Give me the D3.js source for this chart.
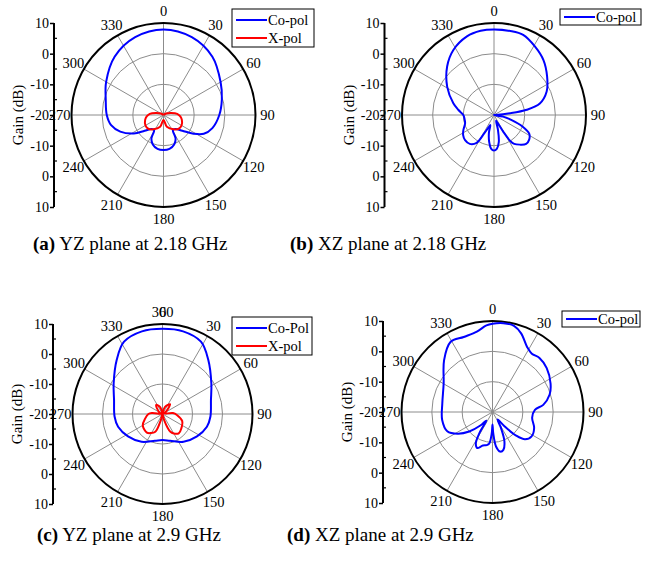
<!DOCTYPE html>
<html>
<head>
<meta charset="utf-8">
<script src="https://cdn.jsdelivr.net/npm/d3@7"></script>
<style>
  body { margin: 0; background: #fff; }
  svg, svg text { font-family: 'Liberation Serif', 'Times New Roman', Times, serif !important; }
</style>
</head>
<body>
<div id="chart"></div>
<script>
// angle (deg) / gain (dB)
var aCoAngles = [0,20,40,60,75,90,105,115,122,130,140,148,153,160,170,180,190,200,207,212,220,230,238,249,259,270,285,300,320,340];
var aCoGain   = [7.9,7.0,4.8,1.5,-0.3,-1.8,-3.5,-5.5,-8.5,-12,-14,-14.2,-11.3,-9.8,-8.8,-8.6,-8.8,-9.8,-11.3,-14.2,-14,-12,-8.6,-4.9,-2.6,-1.5,-0.5,1.6,4.8,7.0];
var aXAngles  = [0,30,60,75,85,95,105,120,132,145,164,180,196,215,228,240,255,265,275,285,300,330];
var aXGain    = [-22,-20.5,-19,-17.5,-15.5,-14.5,-13.8,-13.2,-13.3,-14.3,-16,-18.4,-16,-14.3,-13.3,-13.2,-13.8,-14.5,-15.5,-17.5,-19,-20.5];

var bCoAngles = [0,11,20,31,42,54,66,76,81,84,88,92,100,106,112,118,125,132,139,145,148,151,155,160,165,170,175,180,185,190,196,200,204,208,212,220,229,237,244,254,262,270,278,286,301,316,328,341,351];
var bCoGain   = [7.9,7.9,7.8,6.0,4.1,1.4,-1.2,-4.6,-9.2,-14.8,-19.5,-21,-17,-14,-10,-7,-6,-5.9,-7.2,-8.5,-10,-13.8,-17,-18,-15,-11,-9,-8.4,-9,-11,-14,-16.5,-15.5,-13.2,-9.3,-7.7,-7.5,-8,-8.9,-10.2,-10.3,-10,-8.3,-6.2,-2.2,2.0,5.0,7.1,7.8];

var cCoAngles = [0,14,28,40,58,74,93,106,123,143,164,180,196,217,237,254,267,286,302,320,332,346];
var cCoGain   = [8.4,8.4,7.3,3.7,-0.8,-3.2,-4.0,-4.6,-6.3,-8.4,-10.7,-11.3,-10.7,-8.4,-6.3,-4.6,-4.0,-3.2,-0.8,3.7,7.3,8.4];
var cXAngles  = [0,8,20,38,55,70,85,94,110,123,140,150,156,165,180,195,202,212,220,240,255,270,275,282,295,310,325,340,352];
var cXGain    = [-22,-20,-17.5,-15.9,-18.5,-19.5,-16.5,-15.2,-13,-12.3,-11.6,-12.5,-13.5,-18,-22,-18,-13.6,-12.5,-11.9,-12.4,-14,-15.3,-16.5,-19.5,-19,-18,-16.3,-17.5,-20];

var dCoAngles = [0,7,14,20,28,34,41,51,64,73,82,87,98,111,122,130,135,140,146,152,158,164,169,174,178,180,182,186,190,196,203,208,212,216,222,230,238,247,261,280,300,317,329,339,349,356];
var dCoGain   = [9.1,9.5,9.3,7.6,4.3,3.2,3.6,3.0,1.3,-0.3,-3.1,-6.0,-6.8,-5.3,-4.8,-6,-9,-14,-17,-14,-9.5,-7,-6.7,-8.5,-13,-15.9,-13,-9.5,-8.9,-8.5,-7.1,-8.3,-12,-16.5,-14,-10,-6.5,-3.8,-3.2,-3.2,-1.4,3.4,6.9,6.5,7.0,8.6];

var angleTicks = [0,30,60,90,120,150,180,210,240,270,300,330];
var axisTicks = [-30,-20,-10,0,10,20,30];   // shown as |v| - 20
var minorTicks = [-25,-15,-5,5,15,25];

var SERIF = "'Liberation Serif', 'Times New Roman', Times, serif";

var panels = [
  {cx:163.5, cy:115, R:92, caption:"YZ plane at 2.18 GHz", tag:"(a)", capX:33, capY:250,
   series:[{a:aCoAngles,g:aCoGain,c:"#0000ff",name:"Co-pol"},{a:aXAngles,g:aXGain,c:"#ff0000",name:"X-pol"}],
   leg:{x:232,y:9,w:82}, extra360:false},
  {cx:494, cy:115, R:92, caption:"XZ plane at 2.18 GHz", tag:"(b)", capX:290, capY:250,
   series:[{a:bCoAngles,g:bCoGain,c:"#0000ff",name:"Co-pol"}],
   leg:{x:560,y:9,w:81}, extra360:false},
  {cx:162.5, cy:414, R:90, caption:"YZ plane at 2.9 GHz", tag:"(c)", capX:37, capY:541,
   series:[{a:cCoAngles,g:cCoGain,c:"#0000ff",name:"Co-Pol"},{a:cXAngles,g:cXGain,c:"#ff0000",name:"X-pol"}],
   leg:{x:232,y:317,w:80}, extra360:true},
  {cx:492.5, cy:412, R:91, caption:"XZ plane at 2.9 GHz", tag:"(d)", capX:287, capY:541,
   series:[{a:dCoAngles,g:dCoGain,c:"#0000ff",name:"Co-pol"}],
   leg:{x:562,y:311,w:78}, extra360:false}
];

var svg = d3.select("#chart").append("svg")
  .attr("width", 662).attr("height", 567)
  .attr("font-family", SERIF);

panels.forEach(function(p){
  var g = svg.append("g").attr("transform", "translate(" + p.cx + "," + p.cy + ")");
  var r = d3.scaleLinear().domain([-20, 10]).range([0, p.R]).clamp(true);
  var lr = p.R + 12;

  // grid circles
  [-10, 0].forEach(function(v){
    g.append("circle").attr("r", r(v)).attr("fill", "none")
      .attr("stroke", "#8c8c8c").attr("stroke-width", 1);
  });
  // spokes
  g.selectAll(".spoke").data(angleTicks).enter().append("line")
    .attr("x1", 0).attr("y1", 0)
    .attr("x2", function(d){ return p.R * Math.sin(d*Math.PI/180); })
    .attr("y2", function(d){ return -p.R * Math.cos(d*Math.PI/180); })
    .attr("stroke", "#8c8c8c").attr("stroke-width", 1);
  g.append("circle").attr("r", p.R).attr("fill", "none")
    .attr("stroke", "#000").attr("stroke-width", 2);

  // angle labels
  g.selectAll(".al").data(angleTicks).enter().append("text")
    .attr("x", function(d){ return lr * Math.sin(d*Math.PI/180); })
    .attr("y", function(d){ return -lr * Math.cos(d*Math.PI/180); })
    .attr("text-anchor", "middle").attr("dy", "0.35em")
    .attr("font-size", 14.5)
    .text(function(d){ return d; });
  if (p.extra360) {
    g.append("text").attr("x", 0).attr("y", -lr)
      .attr("text-anchor", "middle").attr("dy", "0.35em")
      .attr("font-size", 14.5).text("360");
  }

  // traces
  p.series.forEach(function(s){
    var pts = s.a.map(function(a, i){ return {a:a, g:s.g[i]}; });
    var line = d3.lineRadial()
      .angle(function(d){ return d.a*Math.PI/180; })
      .radius(function(d){ return r(d.g); })
      .curve(d3.curveCatmullRomClosed.alpha(0.5));
    g.append("path").attr("d", line(pts)).attr("fill", "none")
      .attr("stroke", s.c).attr("stroke-width", 2);
  });

  // left gain axis
  var ax = p.cx - 109.5;
  var y = d3.scaleLinear().domain([-30, 30]).range([p.cy - p.R, p.cy + p.R]);
  var axG = svg.append("g").attr("transform", "translate(" + ax + ",0)");
  axG.call(d3.axisLeft(y).tickValues(axisTicks).tickSize(4).tickPadding(1)
      .tickFormat(function(d){ return Math.abs(d) - 20; }));
  axG.attr("font-family", SERIF).attr("font-size", 14);
  axG.select(".domain").attr("stroke-width", 2).attr("d", "M0," + (p.cy - p.R) + "V" + (p.cy + p.R));
  axG.selectAll(".tick line").attr("stroke-width", 1.5);
  axG.selectAll("text").attr("fill", "#000");
  axG.selectAll(".minor").data(minorTicks).enter().append("line")
    .attr("x1", 0).attr("x2", 3)
    .attr("y1", function(d){ return y(d); }).attr("y2", function(d){ return y(d); })
    .attr("stroke", "#000").attr("stroke-width", 1.2);

  svg.append("text")
    .attr("transform", "translate(" + (ax - 31) + "," + p.cy + ") rotate(-90)")
    .attr("text-anchor", "middle").attr("font-size", 15)
    .text("Gain (dB)");

  // legend
  var lg = svg.append("g").attr("transform", "translate(" + p.leg.x + "," + p.leg.y + ")");
  lg.append("rect").attr("width", p.leg.w).attr("height", p.series.length > 1 ? 38 : 16)
    .attr("fill", "#fff").attr("stroke", "#000").attr("stroke-width", 1);
  p.series.forEach(function(s, i){
    var yy = p.series.length > 1 ? 11 + i*18 : 8;
    lg.append("line").attr("x1", 4).attr("x2", 35).attr("y1", yy).attr("y2", yy)
      .attr("stroke", s.c).attr("stroke-width", 2);
    lg.append("text").attr("x", 36).attr("y", yy).attr("dy", "0.35em")
      .attr("font-size", 14.5).text(s.name);
  });

  // caption
  var cap = svg.append("text").attr("x", p.capX).attr("y", p.capY).attr("font-size", 19);
  cap.append("tspan").attr("font-weight", "bold").text(p.tag);
  cap.append("tspan").text(" " + p.caption);
});
</script>
</body>
</html>
